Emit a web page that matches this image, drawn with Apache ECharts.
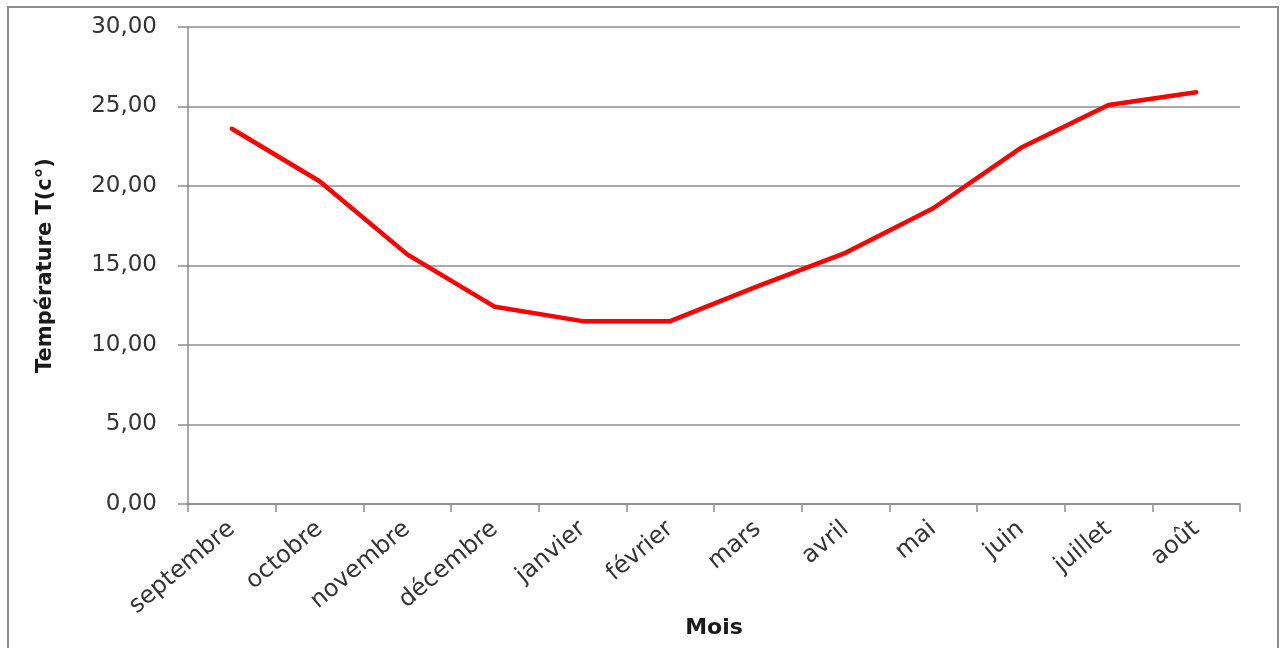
<!DOCTYPE html>
<html>
<head>
<meta charset="utf-8">
<script src="https://cdn.jsdelivr.net/npm/echarts@6/dist/echarts.min.js"></script>
<style>
  html, body { margin: 0; padding: 0; background: #fff; }
  #chart { width: 1282px; height: 648px; }
</style>
</head>
<body>
<div id="chart"></div>
<script>
// Monthly mean temperature (°C), September to August
const months = ['septembre', 'octobre', 'novembre', 'décembre', 'janvier', 'février',
                'mars', 'avril', 'mai', 'juin', 'juillet', 'août'];
const temperatures = [23.6, 20.3, 15.7, 12.4, 11.5, 11.5, 13.7, 15.8, 18.6, 22.4, 25.1, 25.9];

const yMin = 0;
const yMax = 30;
const yStep = 5;

const chart = echarts.init(document.getElementById('chart'), null, { renderer: 'canvas' });

const font = '"DejaVu Sans", "Open Sans", sans-serif';

chart.setOption({
  backgroundColor: '#ffffff',
  animation: false,
  graphic: [{
    type: 'rect',
    shape: { x: 8, y: 7, width: 1270, height: 660 },
    style: { fill: 'none', stroke: '#8c8c8c', lineWidth: 2 },
    silent: true
  }],
  grid: { left: 188, right: 42, top: 27, bottom: 144, outerBoundsMode: 'none', containLabel: false },
  xAxis: {
    type: 'category',
    data: months,
    boundaryGap: true,
    name: 'Mois',
    nameLocation: 'middle',
    nameGap: 113,
    nameMoveOverlap: false,
    nameTextStyle: { fontFamily: font, fontSize: 22, fontWeight: 'bold', color: '#1a1a1a' },
    axisLine: { lineStyle: { color: '#8c8c8c', width: 1.5 } },
    axisTick: { show: true, alignWithLabel: false, length: 8, lineStyle: { color: '#8c8c8c', width: 1.5 } },
    axisLabel: { rotate: 40, fontFamily: font, fontSize: 24, color: '#333333', margin: 22, interval: 0 }
  },
  yAxis: {
    type: 'value',
    min: yMin,
    max: yMax,
    interval: yStep,
    name: 'Température T(c°)',
    nameLocation: 'middle',
    nameGap: 132,
    nameRotate: 90,
    nameMoveOverlap: false,
    nameTextStyle: { fontFamily: font, fontSize: 21, fontWeight: 'bold', color: '#1a1a1a' },
    axisLine: { show: true, lineStyle: { color: '#8c8c8c', width: 1.5 } },
    axisTick: { show: true, length: 10, lineStyle: { color: '#8c8c8c', width: 1.5 } },
    splitLine: { show: true, lineStyle: { color: '#8c8c8c', width: 1.5 } },
    axisLabel: {
      fontFamily: font, fontSize: 23, color: '#333333', margin: 31,
      formatter: v => v.toFixed(2).replace('.', ',')
    }
  },
  series: [{
    type: 'line',
    data: temperatures,
    showSymbol: false,
    symbol: 'none',
    lineStyle: { color: '#ff0000', width: 4.5, cap: 'round', join: 'round' },
    itemStyle: { color: '#ff0000' }
  }]
});
</script>
</body>
</html>
